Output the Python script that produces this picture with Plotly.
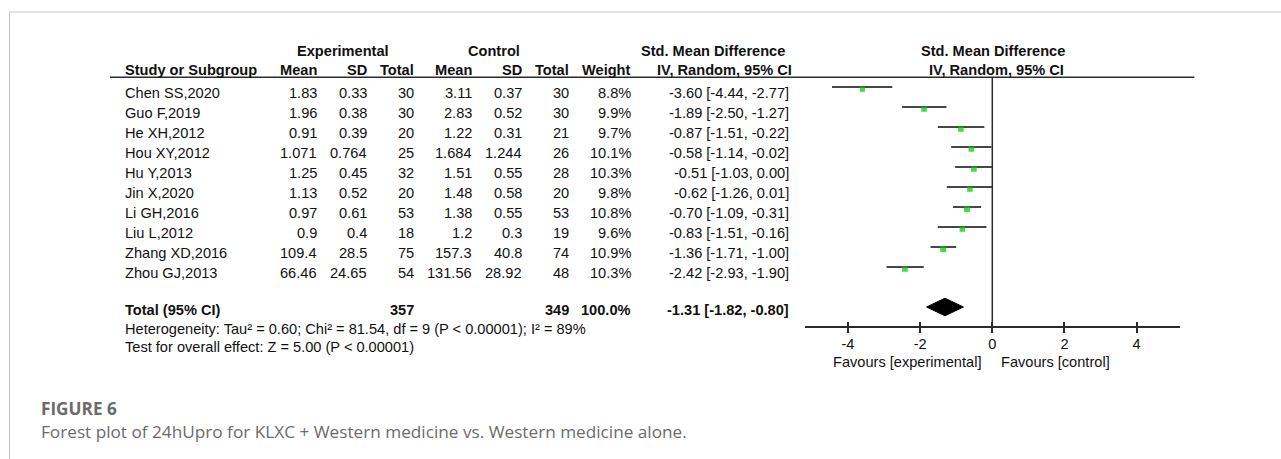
import plotly.graph_objects as go

# ---------------- data ----------------
studies = ["Chen SS,2020", "Guo F,2019", "He XH,2012", "Hou XY,2012", "Hu Y,2013",
           "Jin X,2020", "Li GH,2016", "Liu L,2012", "Zhang XD,2016", "Zhou GJ,2013"]
exp_mean = ["1.83", "1.96", "0.91", "1.071", "1.25", "1.13", "0.97", "0.9", "109.4", "66.46"]
exp_sd = ["0.33", "0.38", "0.39", "0.764", "0.45", "0.52", "0.61", "0.4", "28.5", "24.65"]
exp_total = [30, 30, 20, 25, 32, 20, 53, 18, 75, 54]
ctl_mean = ["3.11", "2.83", "1.22", "1.684", "1.51", "1.48", "1.38", "1.2", "157.3", "131.56"]
ctl_sd = ["0.37", "0.52", "0.31", "1.244", "0.55", "0.58", "0.55", "0.3", "40.8", "28.92"]
ctl_total = [30, 30, 21, 26, 28, 20, 53, 19, 74, 48]
weight = [8.8, 9.9, 9.7, 10.1, 10.3, 9.8, 10.8, 9.6, 10.9, 10.3]
smd = [-3.60, -1.89, -0.87, -0.58, -0.51, -0.62, -0.70, -0.83, -1.36, -2.42]
ci_low = [-4.44, -2.50, -1.51, -1.14, -1.03, -1.26, -1.09, -1.51, -1.71, -2.93]
ci_high = [-2.77, -1.27, -0.22, -0.02, 0.00, 0.01, -0.31, -0.16, -1.00, -1.90]

total_exp = 357
total_ctl = 349
total_weight = "100.0%"
pooled = -1.31
pooled_low = -1.82
pooled_high = -0.80

heterogeneity = "Heterogeneity: Tau² = 0.60; Chi² = 81.54, df = 9 (P < 0.00001); I² = 89%"
overall = "Test for overall effect: Z = 5.00 (P < 0.00001)"
tick_vals = [-4, -2, 0, 2, 4]
tick_text = ["-4", "-2", "0", "2", "4"]
fav_left = "Favours [experimental]"
fav_right = "Favours [control]"
fig_label = "FIGURE 6"
caption = "Forest plot of 24hUpro for KLXC + Western medicine vs. Western medicine alone."

# ---------------- layout helpers ----------------
W, H = 1281, 459
ROW0, ROWSTEP = 87.0, 20.0          # pixel y of first study row, row spacing


def px(x):
    return x / W


def py(y):
    return 1 - y / H


FONT = "Liberation Sans, Arial, sans-serif"
FS = 14.6
TXT = "#111111"
LINE = "#2b2b2b"

n = len(studies)
rows = list(range(n))
total_row = n + 1

fig = go.Figure()

# CI lines
xs, ys = [], []
for i in rows:
    xs += [ci_low[i], ci_high[i], None]
    ys += [i, i, None]
fig.add_trace(go.Scatter(x=xs, y=ys, mode="lines",
                         line=dict(color="#0a0a0a", width=1.7),
                         hoverinfo="skip", showlegend=False))

# squares
fig.add_trace(go.Scatter(x=smd, y=[r + 0.1 for r in rows], mode="markers",
                         marker=dict(symbol="square", color="#00c400",
                                     size=[5.6 * (w / 10.0) ** 0.5 for w in weight],
                                     line=dict(width=0)),
                         hoverinfo="skip", showlegend=False))

# diamond
dh = 0.44
fig.add_trace(go.Scatter(x=[pooled_low, pooled, pooled_high, pooled, pooled_low],
                         y=[total_row, total_row - dh, total_row, total_row + dh, total_row],
                         mode="lines", fill="toself", fillcolor="#000000",
                         line=dict(color="#000000", width=1),
                         hoverinfo="skip", showlegend=False))

AX_Y = 327.3
x_dom = [804.6 / W, 1180.0 / W]
fig.update_layout(
    width=W, height=H,
    margin=dict(l=0, r=0, t=0, b=0),
    paper_bgcolor="white", plot_bgcolor="rgba(0,0,0,0)",
    showlegend=False,
    xaxis=dict(domain=x_dom, range=[-5.2, 5.2], anchor="free", position=py(AX_Y),
               showline=True, linecolor=LINE, linewidth=1.5,
               ticks="outside", ticklen=5, tickwidth=1.5, tickcolor=LINE,
               tickvals=tick_vals, ticktext=tick_text, ticklabelstandoff=-2,
               tickfont=dict(family=FONT, size=FS, color=TXT),
               showgrid=False, zeroline=False, fixedrange=True),
    xaxis2=dict(overlaying="x", range=[-5.2, 5.2], anchor="free", position=py(AX_Y),
                showline=False, ticks="inside", ticklen=5, tickwidth=1.5, tickcolor=LINE,
                tickvals=tick_vals, showticklabels=False,
                showgrid=False, zeroline=False),
    yaxis=dict(domain=[0, 1], range=[(H - ROW0) / ROWSTEP, -ROW0 / ROWSTEP],
               visible=False, fixedrange=True),
)
# invisible trace to activate xaxis2
fig.add_trace(go.Scatter(x=[0], y=[0], xaxis="x2", mode="markers",
                         marker=dict(opacity=0), hoverinfo="skip", showlegend=False))

shapes = []
# frame (top + left)
shapes.append(dict(type="line", xref="paper", yref="paper", x0=px(9), x1=1,
                   y0=py(12), y1=py(12), line=dict(color="#c4c4c4", width=1)))
shapes.append(dict(type="line", xref="paper", yref="paper", x0=px(9.5), x1=px(9.5),
                   y0=py(12), y1=0, line=dict(color="#c4c4c4", width=1)))
# header rule
shapes.append(dict(type="line", xref="paper", yref="paper", x0=px(110), x1=px(1194.3),
                   y0=py(77.3), y1=py(77.3), line=dict(color=LINE, width=1.5)))
# line of no effect
shapes.append(dict(type="line", xref="x", yref="paper", x0=0, x1=0,
                   y0=py(AX_Y), y1=py(77.3), line=dict(color=LINE, width=1.5)))
fig.update_layout(shapes=shapes)

ann = []


def t(text, x, y, anchor="left", bold=False, size=FS, color=TXT, family=FONT):
    if bold:
        text = "<b>" + text + "</b>"
    ann.append(dict(text=text, xref="paper", yref="paper", x=px(x), y=py(y),
                    xanchor=anchor, yanchor="middle", showarrow=False,
                    font=dict(family=family, size=size, color=color)))


# column right edges (px)
NAME_L = 122.7
C_EM, C_ESD, C_ET = 319.0, 369.0, 416.5
C_CM, C_CSD, C_CT = 473.5, 524.0, 570.5
C_W, C_CI = 632.5, 791.0

# header
H1, H2 = 50.7, 70.2
t("Experimental", 343, H1, "center", True)
t("Control", 494.2, H1, "center", True)
t("Std. Mean Difference", 713, H1, "center", True)
t("Std. Mean Difference", 993, H1, "center", True)
t("Study or Subgroup", NAME_L, H2, "left", True)
t("Mean", C_EM, H2, "right", True)
t("SD", C_ESD, H2, "right", True)
t("Total", C_ET, H2, "right", True)
t("Mean", C_CM, H2, "right", True)
t("SD", C_CSD, H2, "right", True)
t("Total", C_CT, H2, "right", True)
t("Weight", C_W, H2, "right", True)
t("IV, Random, 95% CI", 724, H2, "center", True)
t("IV, Random, 95% CI", 996, H2, "center", True)

TOFF = 6.0
for i in rows:
    yy = ROW0 + ROWSTEP * i + TOFF
    t(studies[i], NAME_L, yy, "left")
    t(exp_mean[i], C_EM, yy, "right")
    t(exp_sd[i], C_ESD, yy, "right")
    t(str(exp_total[i]), C_ET, yy, "right")
    t(ctl_mean[i], C_CM, yy, "right")
    t(ctl_sd[i], C_CSD, yy, "right")
    t(str(ctl_total[i]), C_CT, yy, "right")
    t(f"{weight[i]:.1f}%", C_W, yy, "right")
    t(f"{smd[i]:.2f} [{ci_low[i]:.2f}, {ci_high[i]:.2f}]", C_CI, yy, "right")

YT = 310
t("Total (95% CI)", NAME_L, YT, "left", True)
t(str(total_exp), C_ET, YT, "right", True)
t(str(total_ctl), C_CT, YT, "right", True)
t(total_weight, C_W, YT, "right", True)
t(f"{pooled:.2f} [{pooled_low:.2f}, {pooled_high:.2f}]", C_CI, YT, "right", True)
t(heterogeneity, NAME_L, 329.0, "left")
t(overall, NAME_L, 347.0, "left")

# favours labels under axis
ann.append(dict(text=fav_left, xref="x", yref="paper", x=0, y=py(361.7), xshift=-9,
                xanchor="right", yanchor="middle", showarrow=False,
                font=dict(family=FONT, size=FS, color=TXT)))
ann.append(dict(text=fav_right, xref="x", yref="paper", x=0, y=py(361.7), xshift=7,
                xanchor="left", yanchor="middle", showarrow=False,
                font=dict(family=FONT, size=FS, color=TXT)))

# caption
CAP_FONT = "Open Sans, Noto Sans, sans-serif"
t("<b>" + fig_label + "</b>", 38.5, 408.5, "left", False, 17.2, "#6b6b6b", CAP_FONT)
t(caption, 38.5, 431.5, "left", False, 17.2, "#6b6b6b", CAP_FONT)

fig.update_layout(annotations=ann)
fig.write_html("out.html",
               config={"displayModeBar": False},
               post_script="document.body.style.margin='0';document.body.style.overflow='hidden';")
